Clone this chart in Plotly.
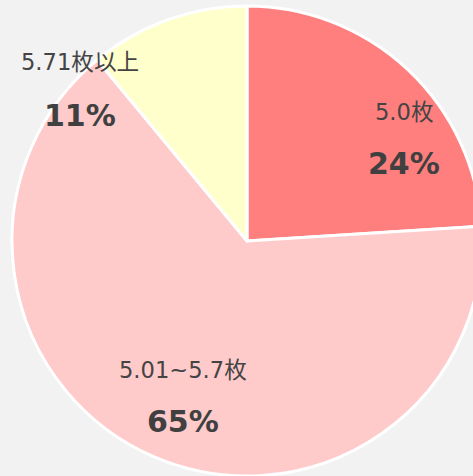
import plotly.graph_objects as go

labels = ["5.0枚", "5.01~5.7枚", "5.71枚以上"]
values = [24, 65, 11]
colors = ["#ff7f7f", "#ffcaca", "#ffffcc"]
pct_text = ["24%", "65%", "11%"]

W, H = 482, 476
# label anchor positions in pixels (x, y of name; y of percent)
label_pos = [(404, 112, 163), (183, 370, 421), (80, 62, 115)]

fig = go.Figure()
fig.add_trace(go.Pie(
    labels=labels, values=values, sort=False, direction="clockwise", rotation=0,
    marker=dict(colors=colors, line=dict(color="white", width=3)),
    textinfo="none", hoverinfo="label+percent", showlegend=False,
    domain=dict(x=[12 / W, 1], y=[0, 470 / H]),
))

font_family = "DejaVu Sans, Noto Sans CJK JP, sans-serif"
for lab, pct, (px, py1, py2) in zip(labels, pct_text, label_pos):
    fig.add_annotation(x=px / W, y=1 - py1 / H, xref="paper", yref="paper",
                       text=lab, showarrow=False, xanchor="center", yanchor="middle",
                       font=dict(family=font_family, size=22.6, color="#444444"))
    fig.add_annotation(x=px / W, y=1 - py2 / H, xref="paper", yref="paper",
                       text="<b>" + pct + "</b>", showarrow=False, xanchor="center", yanchor="middle",
                       font=dict(family=font_family, size=30, color="#404040"))

fig.update_layout(
    width=W, height=H, autosize=False,
    margin=dict(l=0, r=0, t=0, b=0),
    paper_bgcolor="#f2f2f2", plot_bgcolor="#f2f2f2",
)

fig.write_html("out.html", config={"displayModeBar": False},
               post_script="document.body.style.margin='0';document.body.style.overflow='hidden';document.documentElement.style.overflow='hidden';")
